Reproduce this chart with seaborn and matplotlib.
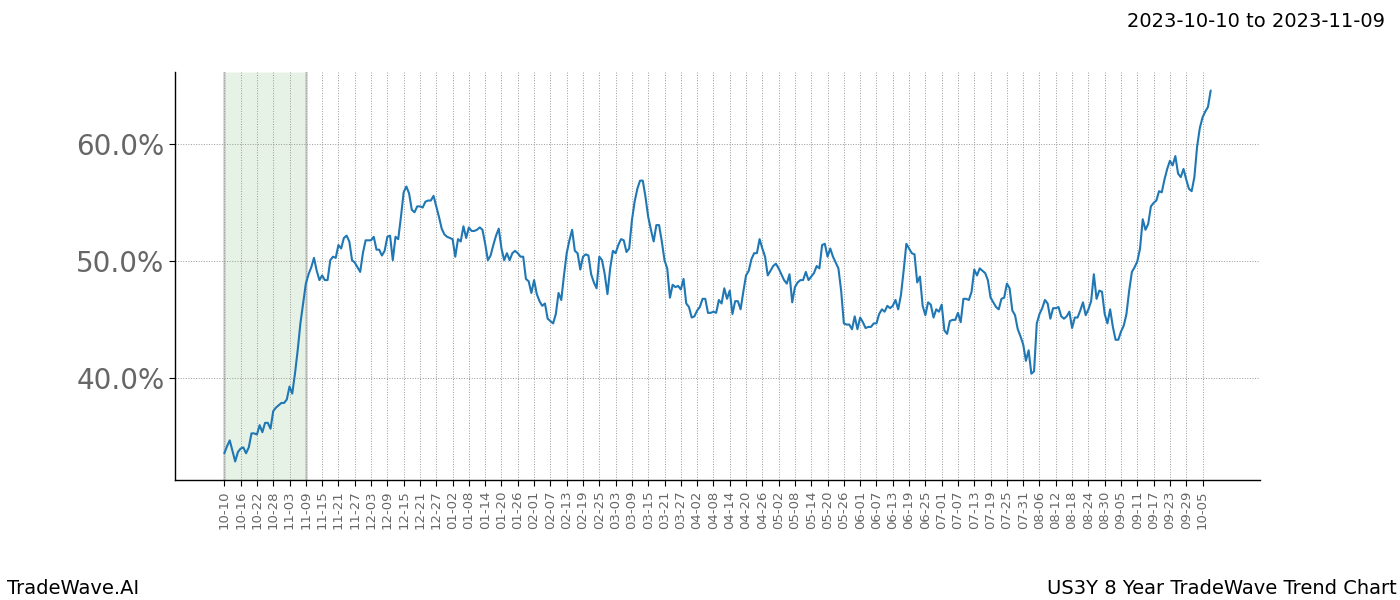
import numpy as np
import pandas as pd
import matplotlib
matplotlib.use("Agg")
import matplotlib.pyplot as plt
import seaborn as sns

# ---- data -------------------------------------------------------------
start_date = "2023-10-10"
highlight_start = "2023-10-10"
highlight_end = "2023-11-09"
title_text = "2023-10-10 to 2023-11-09"
left_footer = "TradeWave.AI"
right_footer = "US3Y 8 Year TradeWave Trend Chart"
y_ticks = [40, 50, 60]

trend_pct = [
    33.6, 34.2, 34.7, 33.8, 32.9, 33.7, 34.0, 34.1, 33.6, 34.1,
    35.3, 35.3, 35.2, 36.0, 35.4, 36.2, 36.2, 35.7, 37.2, 37.5,
    37.7, 37.9, 37.9, 38.2, 39.3, 38.7, 40.4, 42.4, 44.7, 46.4,
    48.1, 48.9, 49.5, 50.3, 49.2, 48.4, 48.8, 48.4, 48.4, 50.1,
    50.4, 50.3, 51.4, 51.1, 52.0, 52.2, 51.7, 50.1, 49.9, 49.5,
    49.1, 50.7, 51.8, 51.8, 51.8, 52.1, 51.0, 51.0, 50.5, 50.9,
    52.1, 52.2, 50.1, 52.1, 51.9, 53.8, 55.9, 56.4, 55.8, 54.4,
    54.2, 54.7, 54.7, 54.6, 55.1, 55.2, 55.2, 55.6, 54.7, 53.8,
    52.8, 52.3, 52.1, 52.0, 51.9, 50.4, 51.9, 51.7, 53.0, 52.0,
    52.9, 52.6, 52.6, 52.7, 52.9, 52.7, 51.5, 50.1, 50.5, 51.4,
    52.2, 52.8, 51.1, 50.1, 50.7, 50.1, 50.7, 50.9, 50.7, 50.4,
    50.4, 48.5, 48.3, 47.3, 48.4, 47.2, 46.6, 46.2, 46.4, 45.1,
    44.9, 44.7, 45.5, 47.3, 46.7, 48.8, 50.7, 51.8, 52.7, 50.9,
    50.7, 49.3, 50.4, 50.6, 50.5, 48.9, 48.2, 47.7, 50.4, 50.1,
    48.9, 47.2, 49.4, 50.9, 50.7, 51.4, 51.9, 51.8, 50.8, 51.1,
    53.5, 55.1, 56.2, 56.9, 56.9, 55.5, 53.8, 52.7, 51.7, 53.1,
    53.1, 51.7, 50.1, 49.4, 46.9, 48.0, 47.8, 47.9, 47.6, 48.5,
    46.4, 46.1, 45.2, 45.3, 45.8, 46.1, 46.8, 46.8, 45.6, 45.6,
    45.7, 45.6, 46.7, 46.4, 47.7, 46.8, 47.5, 45.5, 46.6, 46.6,
    45.9, 47.4, 48.8, 49.2, 50.2, 50.7, 50.7, 51.9, 51.1, 50.4,
    48.8, 49.2, 49.6, 49.8, 49.4, 48.9, 48.4, 48.1, 48.9, 46.5,
    47.8, 48.2, 48.4, 48.4, 49.1, 48.4, 48.7, 49.0, 49.6, 49.4,
    51.4, 51.5, 50.4, 51.1, 50.4, 49.9, 49.4, 47.5, 44.7, 44.6,
    44.6, 44.2, 45.3, 44.2, 45.2, 44.8, 44.3, 44.4, 44.4, 44.7,
    44.7, 45.5, 45.9, 45.7, 46.2, 46.0, 46.2, 46.7, 45.9, 47.1,
    49.2, 51.5, 51.1, 50.7, 50.6, 48.2, 48.7, 46.2, 45.4, 46.5,
    46.3, 45.2, 45.9, 45.7, 46.3, 44.1, 43.8, 44.9, 45.0, 45.0,
    45.6, 44.8, 46.8, 46.8, 46.7, 47.4, 49.3, 48.8, 49.4, 49.2,
    49.0, 48.4, 46.9, 46.5, 46.1, 45.9, 46.8, 46.9, 48.1, 47.7,
    45.8, 45.4, 44.2, 43.6, 42.9, 41.5, 42.4, 40.4, 40.6, 44.7,
    45.5, 46.0, 46.7, 46.4, 45.1, 46.0, 46.0, 46.1, 45.3, 45.1,
    45.3, 45.7, 44.3, 45.2, 45.2, 45.8, 46.5, 45.4, 45.9, 46.6,
    48.9, 46.8, 47.5, 47.4, 45.5, 44.7, 45.9, 44.4, 43.3, 43.3,
    44.0, 44.5, 45.5, 47.5, 49.1, 49.5, 50.0, 51.1, 53.6, 52.7,
    53.2, 54.7, 55.0, 55.2, 56.0, 55.9, 57.0, 57.9, 58.6, 58.2,
    59.0, 57.5, 57.2, 57.9, 57.0, 56.2, 56.0, 57.2, 59.8, 61.4,
    62.3, 62.8, 63.2, 64.6,
]

# calendar days (the series has no 29 February entry)
all_days = pd.date_range(start_date, periods=len(trend_pct) + 1, freq="D")
all_days = all_days[~((all_days.month == 2) & (all_days.day == 29))]
dates = all_days[: len(trend_pct)]

df = pd.DataFrame({"idx": np.arange(len(trend_pct)), "date": dates, "trend": trend_pct})

# ---- plot -------------------------------------------------------------
sns.set_style("white")
plt.rcParams["font.family"] = ["DejaVu Sans"]

fig, ax = plt.subplots(figsize=(14, 6), dpi=100)
fig.subplots_adjust(left=0.125, right=0.9, top=0.88, bottom=0.2)

hs = int(df.loc[df["date"] == pd.Timestamp(highlight_start), "idx"].iloc[0])
he = int(df.loc[df["date"] == pd.Timestamp(highlight_end), "idx"].iloc[0])
ax.axvspan(hs, he, facecolor="green", alpha=0.1, zorder=0)
ax.axvline(hs, color="#bbbbbb", lw=1.8, alpha=0.7, zorder=0.5)
ax.axvline(he, color="#bbbbbb", lw=1.8, alpha=0.7, zorder=0.5)

sns.lineplot(data=df, x="idx", y="trend", ax=ax, color="#1f77b4", linewidth=1.5)

tick_df = df.iloc[::6]
ax.set_xticks(tick_df["idx"].values)
ax.set_xticklabels([d.strftime("%m-%d") for d in tick_df["date"]],
                   rotation=90, fontsize=9.5, color="#666666")

ax.set_yticks(y_ticks)
ax.set_yticklabels([f"{v:.1f}%" for v in y_ticks], fontsize=20, color="#666666")

ax.grid(True, which="major", axis="both", color="#999999", linestyle=":", linewidth=0.7)
ax.set_axisbelow(True)
for s in ["top", "right"]:
    ax.spines[s].set_visible(False)
for s in ["left", "bottom"]:
    ax.spines[s].set_color("black")
    ax.spines[s].set_linewidth(1.0)
ax.tick_params(axis="both", which="major", length=4, color="black", bottom=True, left=True)
ax.set_xlabel("")
ax.set_ylabel("")
ax.margins(x=0.05, y=0.05)

fig.text(0.989, 0.98, title_text, ha="right", va="top", fontsize=14, color="black")
fig.text(0.005, 0.02, left_footer, ha="left", va="center", fontsize=14, color="black")
fig.text(0.998, 0.02, right_footer, ha="right", va="center", fontsize=14, color="black")

fig.savefig("out.png", dpi=100)
